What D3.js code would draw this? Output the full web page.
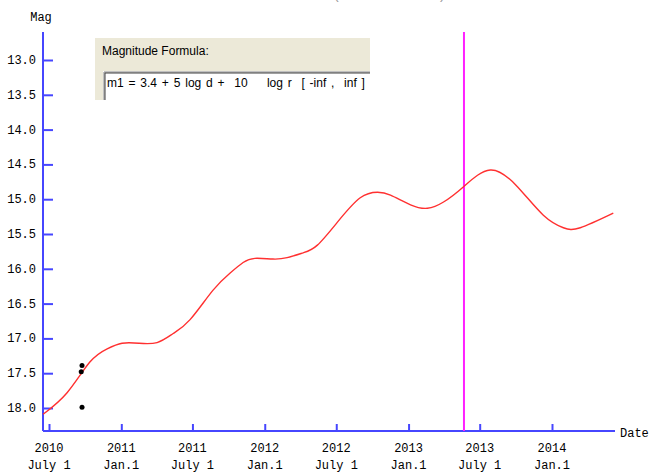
<!DOCTYPE html>
<html lang="en">

	<head>
		<meta charset="UTF-8">
		<title>Mag vs Date</title>
		<style>
			body { margin: 0; background: #fff; }
		</style>
	</head>

	<body>
		<script src="https://d3js.org/d3.v7.min.js"></script>
		<div id="svg"></div>
		<script>
			// light curve (date, magnitude)
			var curveDates = ["2010-06-16", "2010-08-16", "2010-10-13", "2010-11-26", "2011-01-03", "2011-02-15", "2011-04-02", "2011-05-13", "2011-06-25", "2011-08-22", "2011-10-05", "2011-11-07", "2011-12-07", "2012-01-22", "2012-02-27", "2012-04-08", "2012-05-14", "2012-07-04", "2012-08-31", "2012-10-14", "2012-11-16", "2013-01-06", "2013-02-18", "2013-03-31", "2013-05-21", "2013-07-28", "2013-10-05", "2013-12-10", "2014-01-30", "2014-03-14", "2014-06-06"];
			var curveMags = [18.09, 17.78, 17.34, 17.15, 17.07, 17.07, 17.06, 16.93, 16.73, 16.31, 16.06, 15.91, 15.85, 15.86, 15.84, 15.77, 15.66, 15.33, 14.98, 14.90, 14.94, 15.08, 15.13, 15.04, 14.82, 14.58, 14.82, 15.23, 15.41, 15.41, 15.20];
			// observations
			var obsDates = ["2010-09-23", "2010-09-21", "2010-09-23"];
			var obsMags = [17.39, 17.48, 17.99];
			// today marker
			var todayDate = "2013-05-22";
			// ticks
			var magTicks = [13.0, 13.5, 14.0, 14.5, 15.0, 15.5, 16.0, 16.5, 17.0, 17.5, 18.0];
			var dateTicks = ["2010-07-01", "2011-01-01", "2011-07-01", "2012-01-01", "2012-07-01", "2013-01-01", "2013-07-01", "2014-01-01"];
			var dateTickYears = ["2010", "2011", "2011", "2012", "2012", "2013", "2013", "2014"];
			var dateTickMonths = ["July 1", "Jan.1", "July 1", "Jan.1", "July 1", "Jan.1", "July 1", "Jan.1"];
			var formulaTitle = "Magnitude Formula:";
			var formulaText = "m1 = 3.4 + 5 log d +  10    log r  [ -inf ,  inf ]";

			const width = 651;
			const height = 472;
			const axisColor = "#4646ff";
			const monoFont = "'Liberation Mono', 'DejaVu Sans Mono', monospace";
			const parseDate = d3.timeParse("%Y-%m-%d");

			const svg = d3.select("#svg").append("svg").attr("width", width).attr("height", height);

			//比例尺
			const xScale = d3.scaleTime().domain([parseDate("2010-07-01"), parseDate("2014-01-01")]).range([49, 552]);
			const yScale = d3.scaleLinear().domain([13, 18]).range([60, 408]);
			const axisLeftX = 43;
			const axisBottomY = 431;

			// cut off title at the top
			svg.append("text").attr("x", 334).attr("y", -1).attr("fill", "#999").style("font-family", "Arial, sans-serif").style("font-size", "14px").text("(");
			svg.append("text").attr("x", 440).attr("y", -1).attr("fill", "#999").style("font-family", "Arial, sans-serif").style("font-size", "14px").text(")");

			//画 y 轴
			svg.append("line").attr("x1", axisLeftX).attr("x2", axisLeftX).attr("y1", 32).attr("y2", axisBottomY).attr("stroke", axisColor).attr("stroke-width", 2);
			const gy = svg.append("g").attr("transform", `translate(${axisLeftX},0)`);
			gy.call(d3.axisRight(yScale).tickValues(magTicks).tickSize(10).tickFormat(""));
			gy.select(".domain").remove();
			gy.selectAll(".tick line").attr("stroke", axisColor).attr("stroke-width", 2);
			svg.append("g").selectAll("text").data(magTicks).enter().append("text")
				.attr("x", 36).attr("y", d => yScale(d) + 4).attr("text-anchor", "end")
				.style("font-family", monoFont).style("font-size", "12px").attr("fill", "#000")
				.text(d => d.toFixed(1));
			svg.append("text").attr("x", 41).attr("y", 21).attr("text-anchor", "middle")
				.style("font-family", monoFont).style("font-size", "12px").attr("fill", "#000").text("Mag");

			//画 x 轴
			svg.append("line").attr("x1", axisLeftX).attr("x2", 615).attr("y1", axisBottomY).attr("y2", axisBottomY).attr("stroke", axisColor).attr("stroke-width", 2);
			const gx = svg.append("g").attr("transform", `translate(0,${axisBottomY})`);
			gx.call(d3.axisTop(xScale).tickValues(dateTicks.map(parseDate)).tickSize(7).tickFormat(""));
			gx.select(".domain").remove();
			gx.selectAll(".tick line").attr("stroke", axisColor).attr("stroke-width", 2);
			const xLabels = svg.append("g").selectAll("text").data(dateTicks).enter().append("text")
				.attr("text-anchor", "middle").style("font-family", monoFont).style("font-size", "12px").attr("fill", "#000");
			xLabels.append("tspan").attr("x", d => xScale(parseDate(d))).attr("y", 452).text((d, i) => dateTickYears[i]);
			xLabels.append("tspan").attr("x", d => xScale(parseDate(d))).attr("y", 469).text((d, i) => dateTickMonths[i]);
			svg.append("text").attr("x", 620).attr("y", 437)
				.style("font-family", monoFont).style("font-size", "12px").attr("fill", "#000").text("Date");

			// magenta line for the current date
			svg.append("line").attr("x1", xScale(parseDate(todayDate))).attr("x2", xScale(parseDate(todayDate)))
				.attr("y1", 32).attr("y2", axisBottomY).attr("stroke", "#ff20ff").attr("stroke-width", 2);

			//折线
			const pathLine = d3.line().curve(d3.curveNatural)
				.x(d => xScale(parseDate(d)))
				.y((d, i) => yScale(curveMags[i]));
			svg.append("path").attr("d", pathLine(curveDates)).attr("fill", "none").attr("stroke", "#ff3030").attr("stroke-width", 1.4);

			// observed points
			svg.append("g").selectAll("circle").data(obsDates).enter().append("circle")
				.attr("cx", d => xScale(parseDate(d))).attr("cy", (d, i) => yScale(obsMags[i])).attr("r", 2.5).attr("fill", "#000");

			// formula panel
			const panel = svg.append("g");
			panel.append("rect").attr("x", 95).attr("y", 38).attr("width", 275).attr("height", 62).attr("fill", "#ece9d8");
			panel.append("text").attr("x", 102).attr("y", 55).style("font-family", "Arial, 'Liberation Sans', sans-serif").style("font-size", "12px").attr("fill", "#000").text(formulaTitle);
			panel.append("rect").attr("x", 103).attr("y", 71).attr("width", 267).attr("height", 29).attr("fill", "#fff");
			panel.append("path").attr("d", "M104,100 V72 H370").attr("fill", "none").attr("stroke", "#808080").attr("stroke-width", 1);
			panel.append("path").attr("d", "M105,100 V73 H370").attr("fill", "none").attr("stroke", "#404040").attr("stroke-width", 1);
			panel.append("text").attr("x", 107).attr("y", 87).style("font-family", "Arial, 'Liberation Sans', sans-serif").style("font-size", "12px").style("white-space", "pre").style("word-spacing", "1.5px").attr("fill", "#000").text(formulaText);
		</script>
	</body>

</html>
